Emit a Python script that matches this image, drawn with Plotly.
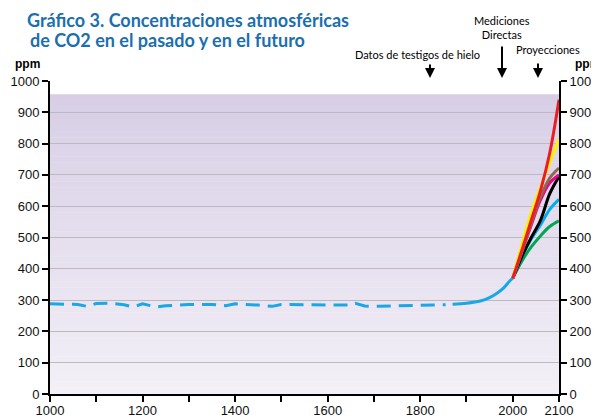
import plotly.graph_objects as go

# ---- data ----
ice_years = [1000, 1030, 1060, 1080, 1100, 1130, 1160, 1180, 1200, 1230, 1250, 1300, 1350, 1380,
             1400, 1450, 1480, 1500, 1550, 1600, 1650, 1660, 1680, 1700, 1750, 1800, 1855]
ice_ppm = [288, 287, 286, 280, 289, 290, 285, 278, 288, 278, 282, 286, 286, 282,
           288, 284, 280, 286, 286, 285, 284, 290, 281, 280, 281, 283, 285]

meas_years = [1870, 1900, 1930, 1950, 1966, 1980, 1994, 2000]
meas_ppm = [287, 290, 297, 308, 322, 338, 362, 370]

proj_years = [2000, 2020, 2040, 2060, 2080, 2100]
proj_series = {
    "verde":   ([370, 425, 470, 505, 535, 553], "#00a651"),
    "cian":    ([370, 440, 495, 540, 590, 622], "#00aeef"),
    "negro":   ([370, 440, 500, 555, 640, 695], "#000000"),
    "magenta": ([370, 455, 540, 620, 675, 700], "#ec008c"),
    "marron":  ([370, 455, 545, 630, 690, 722], "#8b6a4f"),
    "amarillo": ([370, 478, 578, 660, 740, 815], "#fff200"),
    "rojo":    ([370, 460, 555, 650, 770, 940], "#ed1c24"),
}

y_ticks = [0, 100, 200, 300, 400, 500, 600, 700, 800, 900, 1000]
x_ticks = [1000, 1100, 1200, 1300, 1400, 1500, 1600, 1700, 1800, 1900, 2000, 2100]
x_ticklabels = ["1000", "", "1200", "", "1400", "", "1600", "", "1800", "", "2000", "2100"]

shade_top = 958

fig = go.Figure()

# gradient background via bands
n = 48
c_top = (215, 206, 229)
c_bot = (243, 240, 247)
for i in range(n):
    t0 = i / n
    t1 = (i + 1) / n
    f = (t0 + t1) / 2
    col = tuple(round(c_bot[k] + (c_top[k] - c_bot[k]) * f) for k in range(3))
    fig.add_shape(type="rect", xref="x", yref="y", x0=1000, x1=2100,
                  y0=shade_top * t0, y1=min(shade_top * t1 + 1, shade_top),
                  fillcolor="rgb(%d,%d,%d)" % col, line_width=0, layer="below")

fig.add_trace(go.Scatter(x=ice_years, y=ice_ppm, mode="lines",
                         line=dict(color="#1aa7e6", width=3, dash="14px,8px"),
                         showlegend=False, hoverinfo="skip"))
fig.add_trace(go.Scatter(x=meas_years, y=meas_ppm, mode="lines",
                         line=dict(color="#1aa7e6", width=3, shape="spline"),
                         showlegend=False, hoverinfo="skip"))
for name, (vals, col) in proj_series.items():
    fig.add_trace(go.Scatter(x=proj_years, y=vals, mode="lines", name=name,
                             line=dict(color=col, width=3, shape="spline"),
                             showlegend=False, hoverinfo="skip"))

tickfont = dict(family="Liberation Sans, Arial, sans-serif", size=13, color="#111")

fig.update_layout(
    width=599, height=418,
    margin=dict(l=42, r=48, t=73, b=32),
    paper_bgcolor="white", plot_bgcolor="white",
    xaxis=dict(range=[1000, 2100], tickmode="array", tickvals=x_ticks, ticktext=x_ticklabels,
               ticks="outside", ticklen=6, tickwidth=2, tickcolor="black",
               showline=True, linecolor="black", linewidth=2, showgrid=False,
               zeroline=False, tickfont=tickfont, fixedrange=True, automargin=False,
               ticklabelstandoff=-3),
    yaxis=dict(range=[0, 1000], tickmode="array", tickvals=y_ticks,
               ticks="outside", ticklen=6, tickwidth=2, tickcolor="black",
               showline=True, linecolor="black", linewidth=2,
               showgrid=True, gridcolor="#bdb9c4", gridwidth=1,
               zeroline=False, tickfont=tickfont, fixedrange=True, automargin=False),
    yaxis2=dict(range=[0, 1000], tickmode="array", tickvals=y_ticks, overlaying="y",
                side="right", ticks="outside", ticklen=6, tickwidth=2, tickcolor="black",
                showline=True, linecolor="black", linewidth=2, showgrid=False,
                zeroline=False, tickfont=tickfont, fixedrange=True, automargin=False),
)
# invisible trace to show right axis
fig.add_trace(go.Scatter(x=[1000], y=[0], yaxis="y2", mode="markers",
                         marker=dict(opacity=0), showlegend=False, hoverinfo="skip"))

# positions below are given in screen pixels (page has an 8px offset)
W = 509.0
H = 313.0
def px(xp):
    return (xp - 50) / W
def py(yp):
    return (394 - yp) / H

title_font = dict(family="Lato, Liberation Sans, Arial", size=18, color="#1b6fb0")
fig.add_annotation(xref="paper", yref="paper", x=px(26), y=py(8), xanchor="left", yanchor="top",
                   text="<b>Gráfico 3. Concentraciones atmosféricas</b>", showarrow=False,
                   font=title_font, borderpad=0)
fig.add_annotation(xref="paper", yref="paper", x=px(29), y=py(28), xanchor="left", yanchor="top",
                   text="<b>de CO2 en el pasado y en el futuro</b>", showarrow=False,
                   font=title_font, borderpad=0)

ppm_font = dict(family="Liberation Sans, Arial", size=12, color="black")
fig.add_annotation(xref="paper", yref="paper", x=px(13), y=py(73), xanchor="left", yanchor="bottom",
                   text="<b>ppm</b>", showarrow=False, font=ppm_font)
fig.add_annotation(xref="paper", yref="paper", x=px(573), y=py(73), xanchor="left", yanchor="bottom",
                   text="<b>ppm</b>", showarrow=False, font=ppm_font)

ann_font = dict(family="Lato, Liberation Sans, Arial", size=11, color="black")
fig.add_annotation(xref="paper", yref="paper", x=px(417), y=py(54), xanchor="center", yanchor="middle",
                   text="Datos de testigos de hielo", showarrow=False, font=ann_font)
fig.add_annotation(xref="paper", yref="paper", x=px(502), y=py(28), xanchor="center", yanchor="middle",
                   text="Mediciones<br>Directas", showarrow=False, font=ann_font)
fig.add_annotation(xref="paper", yref="paper", x=px(548), y=py(50), xanchor="center", yanchor="middle",
                   text="Proyecciones", showarrow=False, font=ann_font)

for xa, ytail in [(430, 63), (502, 45), (538, 62)]:
    fig.add_annotation(xref="paper", yref="paper", x=px(xa), y=py(78), ax=0, ay=-(78 - ytail),
                       text="", showarrow=True,
                       arrowhead=2, arrowsize=1, arrowwidth=2, arrowcolor="black")

fig.write_html("out.html")
